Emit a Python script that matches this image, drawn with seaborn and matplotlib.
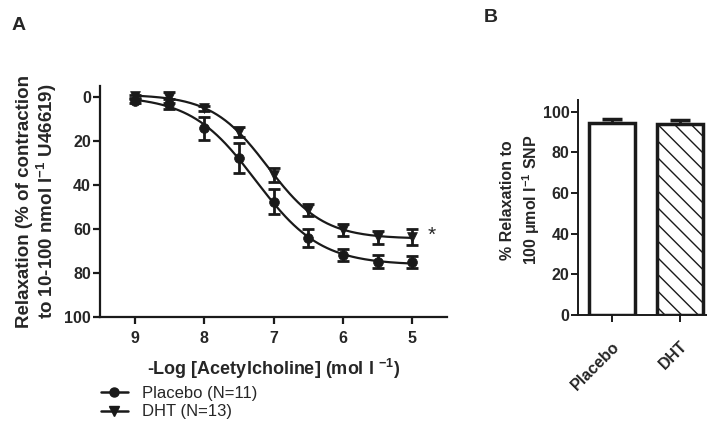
import numpy as np
import pandas as pd
import matplotlib
matplotlib.use("Agg")
import matplotlib.pyplot as plt
import seaborn as sns

sns.set_theme(style="ticks")
plt.rcParams['font.family'] = ['Liberation Sans', 'DejaVu Sans']
plt.rcParams['mathtext.fontset'] = 'custom'
plt.rcParams['mathtext.rm'] = 'Liberation Sans'
plt.rcParams['mathtext.bf'] = 'Liberation Sans:bold'
plt.rcParams['hatch.linewidth'] = 1.0

# ---------------- data ----------------
neg_log_ach = [9, 8.5, 8, 7.5, 7, 6.5, 6, 5.5, 5]
placebo_mean = [1.7, 3.0, 14.2, 27.6, 47.6, 64.2, 71.8, 74.8, 75.0]
placebo_sem = [1.0, 2.3, 5.2, 6.8, 5.6, 4.2, 2.7, 3.0, 2.8]
dht_mean = [-0.3, 0.3, 5.2, 15.8, 35.5, 51.4, 60.5, 63.8, 63.5]
dht_sem = [0.8, 2.5, 1.2, 2.3, 3.3, 2.9, 2.9, 2.8, 3.6]
series_labels = ["Placebo (N=11)", "DHT (N=13)"]

snp_groups = ["Placebo", "DHT"]
snp_mean = [94.3, 93.7]
snp_sem = [2.0, 2.2]


def sigmoid(p, params):
    top, bottom, pec50, hill = params
    return top + (bottom - top) / (1.0 + 10 ** ((p - pec50) * hill))


def fit_sigmoid(x, y):
    x = np.asarray(x, float)
    y = np.asarray(y, float)
    params = np.array([y.min(), y.max(), 7.2, 1.0])
    lam = 1e-2
    for _ in range(300):
        r = y - sigmoid(x, params)
        J = np.zeros((len(x), 4))
        for k in range(4):
            d = np.zeros(4)
            d[k] = 1e-6
            J[:, k] = (sigmoid(x, params + d) - sigmoid(x, params - d)) / 2e-6
        A = J.T @ J
        step = np.linalg.solve(A + lam * np.diag(np.diag(A)), J.T @ r)
        new = params + step
        if np.sum((y - sigmoid(x, new)) ** 2) < np.sum(r ** 2):
            params = new
            lam *= 0.5
        else:
            lam *= 4
    return params


W, H = 707, 428
fig = plt.figure(figsize=(W / 100, H / 100), dpi=100)
fig.patch.set_facecolor('white')
INK = '#1a1a1a'

# ---------------- Panel A ----------------
axA = fig.add_axes([100 / W, 1 - 317 / H, 347 / W, 231 / H])
markers = ['o', 'v']
means = [placebo_mean, dht_mean]
sems = [placebo_sem, dht_sem]
xgrid = np.linspace(9, 5, 200)
handles = []
for lab, m, mean, sem in zip(series_labels, markers, means, sems):
    prm = fit_sigmoid(neg_log_ach, mean)
    fitdf = pd.DataFrame({'x': xgrid, 'y': sigmoid(xgrid, prm)})
    sns.lineplot(data=fitdf, x='x', y='y', ax=axA, color=INK, lw=1.6, zorder=2)
    ptdf = pd.DataFrame({'x': neg_log_ach, 'y': mean})
    axA.errorbar(neg_log_ach, mean, yerr=sem, fmt='none', ecolor=INK,
                 elinewidth=2, capsize=4, capthick=2, zorder=3)
    sns.scatterplot(data=ptdf, x='x', y='y', ax=axA, marker=m, color=INK,
                    s=50, edgecolor=INK, linewidth=0.5, zorder=4)
    h, = axA.plot([], [], color=INK, lw=1.8, marker=m, markersize=6.5)
    handles.append(h)

axA.set_xlim(9.5, 4.5)
axA.set_ylim(100, -5)
axA.set_xticks([9, 8, 7, 6, 5])
axA.set_yticks([0, 20, 40, 60, 80, 100])
axA.set_xticklabels(['9', '8', '7', '6', '5'], fontweight='bold', fontsize=11.5)
axA.set_yticklabels(['0', '20', '40', '60', '80', '100'], fontweight='bold', fontsize=11.5)
axA.tick_params(direction='out', length=5, width=1.6, color=INK, pad=1.5)
axA.tick_params(axis='x', pad=5)
for s in ['top', 'right']:
    axA.spines[s].set_visible(False)
for s in ['left', 'bottom']:
    axA.spines[s].set_linewidth(1.6)
    axA.spines[s].set_color(INK)
axA.set_xlabel(r'-Log [Acetylcholine] (mol l $^{\mathbf{-1}}$)', fontweight='bold',
               fontsize=13, labelpad=8)
axA.set_ylabel('Relaxation (% of contraction\n' + r'to 10-100 nmol l$^{\mathbf{-1}}$ U46619)',
               fontweight='bold', fontsize=13.5, labelpad=4, linespacing=1.05)
axA.text(4.72, 63, '*', fontsize=15, ha='center', va='center')
fig.legend(handles, series_labels, loc='upper left', bbox_to_anchor=(101 / W, 1 - 386 / H),
           frameon=False, fontsize=12, handlelength=1.6, handletextpad=0.85,
           labelspacing=0.2, borderaxespad=0, borderpad=0)

fig.text(12 / W, 1 - 25 / H, 'A', fontsize=14, fontweight='bold', va='center')
fig.text(484 / W, 1 - 18 / H, 'B', fontsize=14, fontweight='bold', va='center')

# ---------------- Panel B ----------------
axB = fig.add_axes([578.3 / W, 1 - 315 / H, (W - 578.3) / W, 215 / H])
bdf = pd.DataFrame({'group': snp_groups, 'value': snp_mean})
sns.barplot(data=bdf, x='group', y='value', ax=axB, color='white', width=0.68,
            edgecolor=INK, linewidth=2.5, errorbar=None, zorder=2)
axB.patches[1].set_hatch('\\\\')
axB.errorbar([0, 1], snp_mean, yerr=[[0, 0], snp_sem], fmt='none', ecolor=INK,
             elinewidth=2, capsize=7, capthick=2.5, zorder=1)
axB.set_xlim(-0.5, (W - 612) / 68)
axB.set_ylim(0, 105.7)
axB.set_yticks([0, 20, 40, 60, 80, 100])
axB.set_yticklabels(['0', '20', '40', '60', '80', '100'], fontweight='bold', fontsize=11.5)
axB.set_xticks([0, 1])
axB.set_xticklabels(snp_groups, fontweight='bold', fontsize=11.5, rotation=45,
                    ha='right', rotation_mode='anchor')
axB.tick_params(direction='out', length=5, width=1.4, color=INK, pad=1.5)
axB.tick_params(axis='x', pad=12)
for s in ['top', 'right']:
    axB.spines[s].set_visible(False)
for s in ['left', 'bottom']:
    axB.spines[s].set_linewidth(1.4)
    axB.spines[s].set_color(INK)
axB.set_xlabel('')
axB.set_ylabel('% Relaxation to\n' + r'100 μmol l$^{\mathbf{-1}}$ SNP', fontweight='bold',
               fontsize=11.5, linespacing=1.35)
axB.yaxis.set_label_coords(-0.28, (315 - 200) / 215)

fig.savefig('out.png', dpi=100, facecolor='white')
